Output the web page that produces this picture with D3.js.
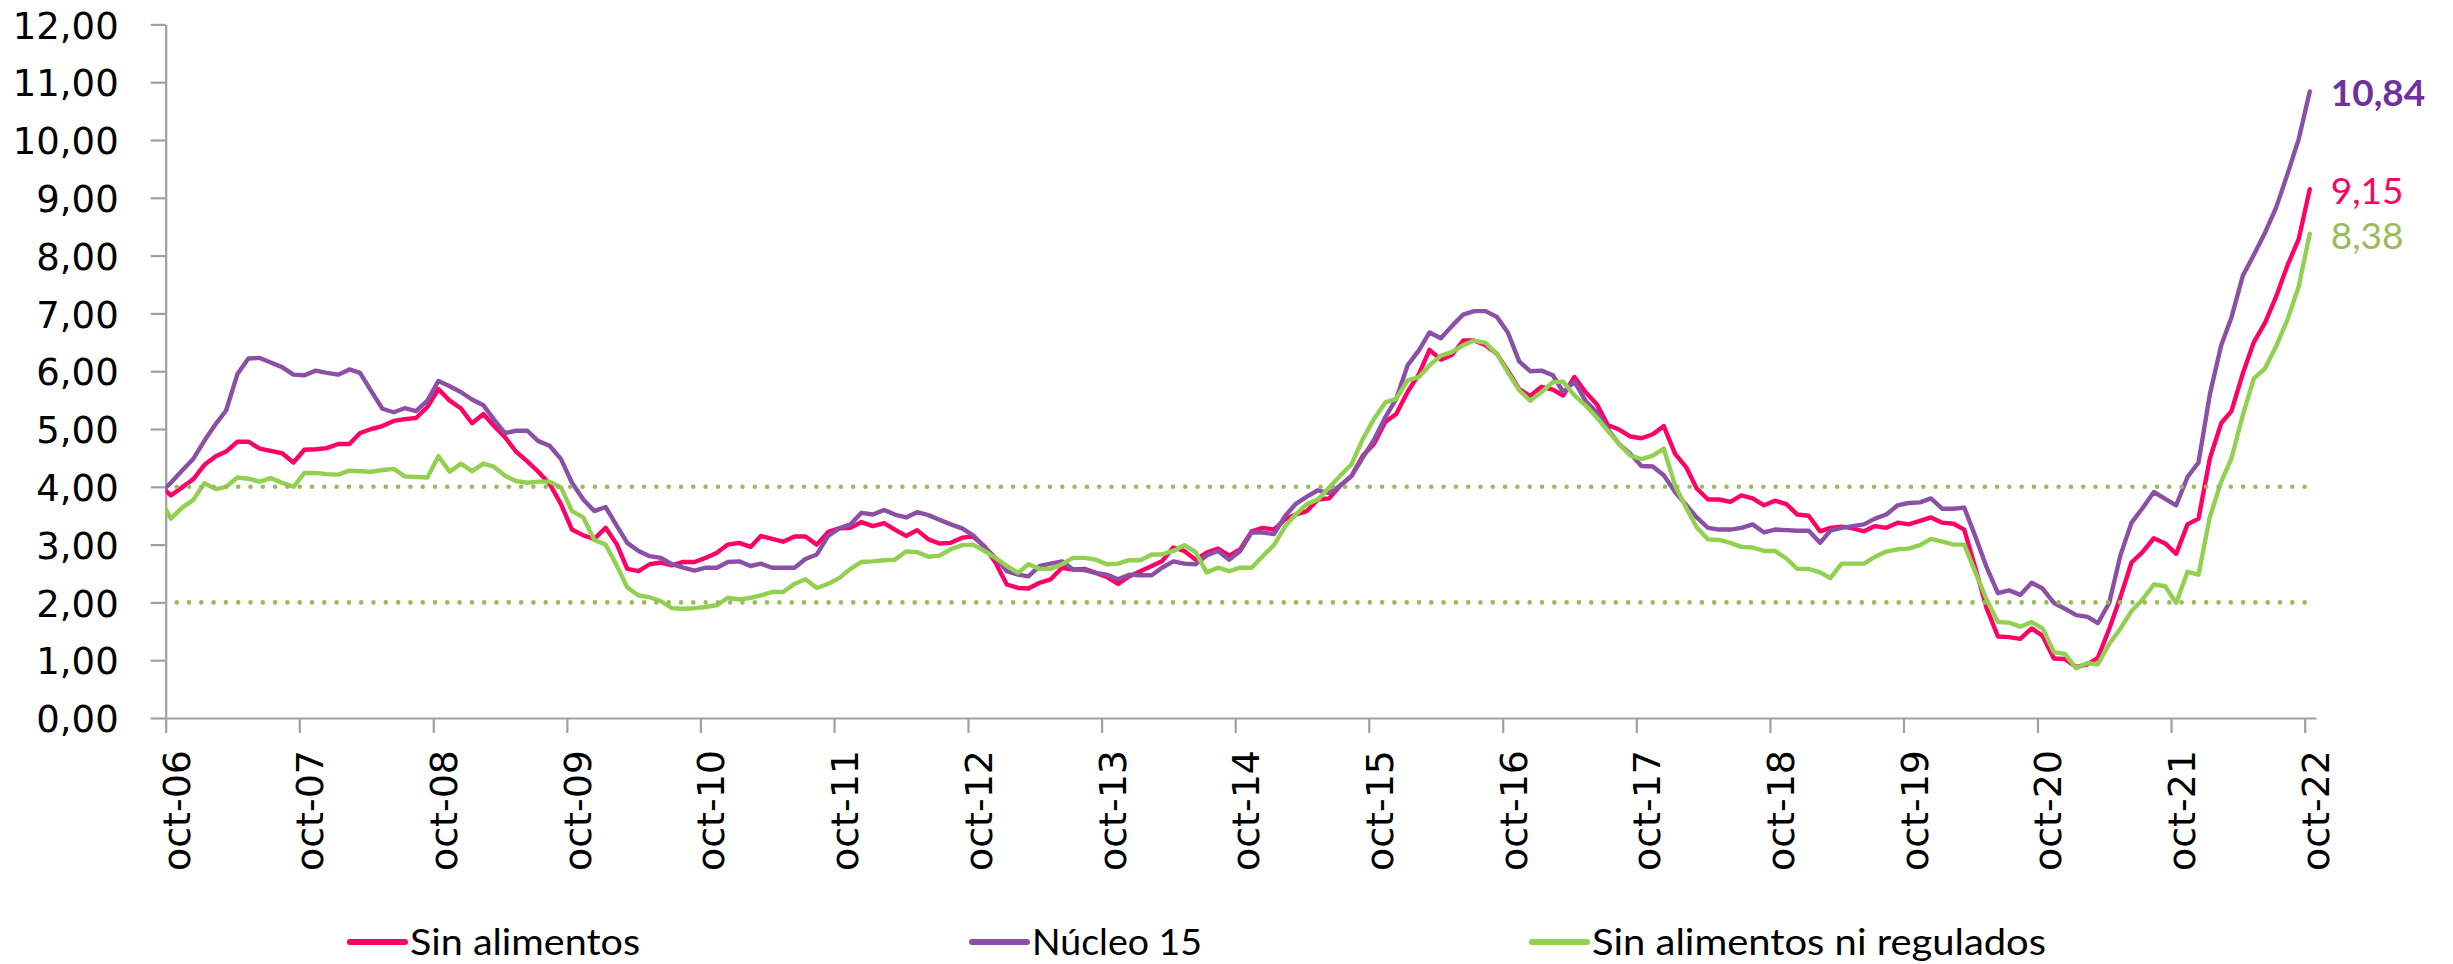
<!DOCTYPE html>
<html>
<head>
<meta charset="utf-8">
<script src="https://cdn.jsdelivr.net/npm/d3@7/dist/d3.min.js"></script>
<style>
  html, body { margin: 0; padding: 0; background: #ffffff; }
  svg { display: block; }
</style>
</head>
<body>
<svg id="chart" width="2453" height="964"></svg>
<script>
// ---- DATA (monthly, sep-06 .. oct-22; first value sits just left of the axis and is clipped) ----
const seriesNames = ["Sin alimentos", "Núcleo 15", "Sin alimentos ni regulados"];

const sinAlimentos = [
  4.03,
  3.85,3.99,4.13,4.38,4.53,4.61,4.78,4.78,4.66,4.62,4.58,4.42,
  4.64,4.65,4.67,4.74,4.74,4.93,5.00,5.05,5.14,5.17,5.19,5.38,
  5.69,5.49,5.36,5.10,5.26,5.06,4.86,4.61,4.44,4.26,4.05,3.70,
  3.26,3.16,3.10,3.29,3.00,2.58,2.54,2.66,2.69,2.64,2.70,2.70,
  2.77,2.86,3.00,3.03,2.96,3.15,3.10,3.05,3.14,3.14,3.00,3.22,
  3.28,3.29,3.39,3.32,3.37,3.26,3.15,3.25,3.09,3.02,3.03,3.12,
  3.14,2.97,2.69,2.31,2.25,2.24,2.34,2.40,2.60,2.57,2.58,2.51,
  2.44,2.32,2.45,2.54,2.63,2.71,2.95,2.89,2.74,2.86,2.93,2.81,
  2.92,3.23,3.29,3.26,3.44,3.52,3.58,3.78,3.80,4.02,4.19,4.54,
  4.74,5.12,5.26,5.64,5.95,6.37,6.20,6.28,6.53,6.53,6.45,6.30,
  6.01,5.69,5.57,5.73,5.68,5.58,5.90,5.64,5.43,5.07,4.99,4.87,
  4.84,4.91,5.05,4.57,4.33,3.97,3.78,3.78,3.74,3.85,3.80,3.68,
  3.76,3.70,3.52,3.50,3.23,3.29,3.31,3.28,3.23,3.32,3.29,3.38,
  3.35,3.41,3.47,3.38,3.36,3.26,2.58,1.90,1.41,1.40,1.37,1.55,
  1.42,1.03,1.02,0.88,0.93,1.04,1.54,2.08,2.69,2.87,3.11,3.02,
  2.84,3.35,3.45,4.49,5.10,5.31,5.96,6.50,6.84,7.29,7.83,8.29,
  9.15
];

const nucleo15 = [
  3.89,
  4.07,4.28,4.48,4.80,5.09,5.32,5.95,6.22,6.23,6.15,6.07,5.94,
  5.93,6.01,5.97,5.94,6.03,5.97,5.65,5.35,5.29,5.36,5.31,5.49,
  5.83,5.74,5.64,5.51,5.41,5.17,4.93,4.97,4.97,4.79,4.71,4.48,
  4.07,3.78,3.58,3.65,3.32,3.03,2.89,2.80,2.77,2.66,2.60,2.55,
  2.60,2.60,2.70,2.71,2.63,2.67,2.60,2.60,2.60,2.75,2.83,3.15,
  3.28,3.35,3.55,3.52,3.60,3.52,3.47,3.56,3.51,3.43,3.35,3.28,
  3.16,2.96,2.77,2.54,2.48,2.45,2.63,2.67,2.71,2.57,2.56,2.51,
  2.48,2.40,2.48,2.47,2.47,2.60,2.71,2.67,2.66,2.81,2.89,2.74,
  2.89,3.21,3.21,3.18,3.50,3.70,3.83,3.94,3.89,4.02,4.19,4.51,
  4.81,5.20,5.52,6.10,6.36,6.67,6.57,6.78,6.98,7.04,7.04,6.94,
  6.67,6.17,6.00,6.01,5.93,5.64,5.82,5.49,5.29,5.00,4.74,4.57,
  4.36,4.35,4.20,3.91,3.68,3.47,3.29,3.26,3.26,3.29,3.35,3.21,
  3.26,3.25,3.24,3.24,3.03,3.24,3.29,3.32,3.35,3.45,3.52,3.68,
  3.72,3.73,3.80,3.62,3.62,3.64,3.13,2.61,2.16,2.21,2.13,2.34,
  2.24,1.99,1.89,1.78,1.75,1.64,1.99,2.80,3.38,3.63,3.91,3.79,
  3.68,4.17,4.42,5.60,6.45,6.93,7.65,8.01,8.40,8.83,9.41,10.02,
  10.84
];

const sinAlimentosNiRegulados = [
  3.81,
  3.45,3.64,3.77,4.06,3.96,4.00,4.16,4.14,4.09,4.15,4.07,4.00,
  4.24,4.24,4.22,4.21,4.28,4.27,4.26,4.29,4.31,4.18,4.17,4.16,
  4.53,4.26,4.40,4.27,4.40,4.35,4.19,4.10,4.07,4.09,4.09,3.99,
  3.58,3.47,3.08,3.00,2.63,2.26,2.12,2.09,2.02,1.90,1.89,1.90,
  1.92,1.95,2.08,2.05,2.08,2.12,2.18,2.18,2.32,2.40,2.25,2.32,
  2.42,2.58,2.70,2.71,2.73,2.74,2.88,2.87,2.79,2.81,2.92,2.99,
  3.00,2.89,2.77,2.63,2.51,2.66,2.58,2.58,2.66,2.77,2.77,2.74,
  2.66,2.67,2.73,2.73,2.83,2.83,2.89,2.99,2.87,2.52,2.60,2.54,
  2.60,2.60,2.80,2.99,3.32,3.52,3.70,3.78,3.99,4.19,4.39,4.83,
  5.17,5.46,5.52,5.84,5.90,6.10,6.27,6.33,6.45,6.53,6.49,6.30,
  5.98,5.67,5.49,5.64,5.81,5.82,5.58,5.41,5.20,4.97,4.74,4.54,
  4.48,4.54,4.66,4.02,3.63,3.30,3.09,3.08,3.03,2.96,2.95,2.89,
  2.89,2.76,2.58,2.58,2.52,2.42,2.67,2.67,2.67,2.79,2.88,2.92,
  2.93,2.99,3.10,3.05,3.00,3.00,2.51,2.05,1.66,1.65,1.58,1.66,
  1.55,1.14,1.11,0.86,0.95,0.93,1.28,1.54,1.85,2.05,2.31,2.28,
  1.99,2.53,2.48,3.48,4.09,4.49,5.24,5.87,6.05,6.43,6.89,7.47,
  8.38
];

const endLabels = ["9,15", "10,84", "8,38"];
const xTickLabels = ["oct-06","oct-07","oct-08","oct-09","oct-10","oct-11","oct-12","oct-13",
  "oct-14","oct-15","oct-16","oct-17","oct-18","oct-19","oct-20","oct-21","oct-22"];
const yTickLabels = ["0,00","1,00","2,00","3,00","4,00","5,00","6,00","7,00","8,00",
  "9,00","10,00","11,00","12,00"];
const yTickValues = [0,1,2,3,4,5,6,7,8,9,10,11,12];
const referenceLevels = [4, 2];

// ---- STYLE ----
const colors = ["#ff0066", "#8b4fa8", "#92d050"];
const labelColors = ["#ff0066", "#7030a0", "#9bbb59"];
const axisColor = "#a0a0a0";
const refColor = "#9bbb59";

// ---- SCALES ----
const svg = d3.select("#chart");
svg.append("rect").attr("width", 2453).attr("height", 964).attr("fill", "#fff");

const dates = sinAlimentos.map((_, i) => new Date(2006, 8 + i, 15));
const tickDates = xTickLabels.map((_, i) => new Date(2006 + i, 9, 1));

const x = d3.scaleTime()
  .domain([new Date(2006, 9, 1), new Date(2022, 10, 1)])
  .range([165.7, 2316]);
const y = d3.scaleLinear().domain([0, 12]).range([718, 24.4]);

// ---- AXES ----
const yAxis = svg.append("g")
  .attr("transform", `translate(${x.range()[0]},0)`)
  .call(d3.axisLeft(y).tickValues(yTickValues)
    .tickFormat((d, i) => yTickLabels[i]).tickSize(15).tickSizeOuter(0).tickPadding(32));
yAxis.select(".domain").attr("stroke", axisColor).attr("stroke-width", 2.2);
yAxis.selectAll(".tick line").attr("stroke", axisColor).attr("stroke-width", 2.2);
yAxis.selectAll(".tick text")
  .attr("font-family", "'DejaVu Sans', sans-serif")
  .attr("font-size", 37).attr("fill", "#000").attr("dy", "0.37em");

const xAxis = svg.append("g")
  .attr("transform", `translate(0,${y(0)})`)
  .call(d3.axisBottom(x).tickValues(tickDates).tickFormat((d, i) => xTickLabels[i])
    .tickSize(15).tickSizeOuter(0));
xAxis.select(".domain").attr("stroke", axisColor).attr("stroke-width", 2.2);
xAxis.selectAll(".tick line").attr("stroke", axisColor).attr("stroke-width", 2.2);
xAxis.selectAll(".tick text")
  .attr("font-family", "'DejaVu Sans', sans-serif")
  .attr("font-size", 38).attr("fill", "#000")
  .attr("text-anchor", "end")
  .attr("dy", null).attr("y", null)
  .attr("transform", "translate(23.5,32) rotate(-90)");

// ---- CLIP ----
svg.append("clipPath").attr("id", "plotClip")
  .append("rect").attr("x", x.range()[0]).attr("y", 0)
  .attr("width", x.range()[1] - x.range()[0] + 10).attr("height", 964);

// ---- SERIES ----
const allSeries = [sinAlimentos, nucleo15, sinAlimentosNiRegulados];
const line = d3.line().x((d, i) => x(dates[i])).y(d => y(d));
const plot = svg.append("g").attr("clip-path", "url(#plotClip)");
allSeries.forEach((s, si) => {
  plot.append("path").datum(s)
    .attr("d", line)
    .attr("fill", "none")
    .attr("stroke", colors[si])
    .attr("stroke-width", 4.4)
    .attr("stroke-linejoin", "round")
    .attr("stroke-linecap", "round");
});

// ---- REFERENCE DOTTED LINES ----
referenceLevels.forEach(lv => {
  svg.append("line")
    .attr("x1", x.range()[0] + 11).attr("x2", x(new Date(2022, 9, 1)))
    .attr("y1", y(lv)).attr("y2", y(lv))
    .attr("stroke", refColor).attr("stroke-width", 4.6)
    .attr("stroke-linecap", "round")
    .attr("stroke-dasharray", "0 12.3");
});

// ---- END LABELS ----
const lastIdx = sinAlimentos.length - 1;
allSeries.forEach((s, si) => {
  svg.append("text")
    .attr("x", x(dates[lastIdx]) + 21)
    .attr("y", y(s[lastIdx]) + 15)
    .attr("font-family", "Lato, sans-serif")
    .attr("font-size", 37)
    .attr("font-weight", si === 1 ? 700 : 400)
    .attr("fill", labelColors[si])
    .text(endLabels[si]);
});

// ---- LEGEND ----
const legendX = [350, 972, 1532];
const legendW = [230, 170, 454];
allSeries.forEach((s, si) => {
  const g = svg.append("g").attr("transform", `translate(${legendX[si]},942)`);
  g.append("line").attr("x1", 0).attr("x2", 55).attr("y1", 0).attr("y2", 0)
    .attr("stroke", colors[si]).attr("stroke-width", 6).attr("stroke-linecap", "round");
  g.append("text").attr("x", 60).attr("y", 13)
    .attr("font-family", "Lato, sans-serif").attr("font-size", 37)
    .attr("fill", "#000")
    .attr("textLength", legendW[si]).attr("lengthAdjust", "spacingAndGlyphs")
    .text(seriesNames[si]);
});
</script>
</body>
</html>
